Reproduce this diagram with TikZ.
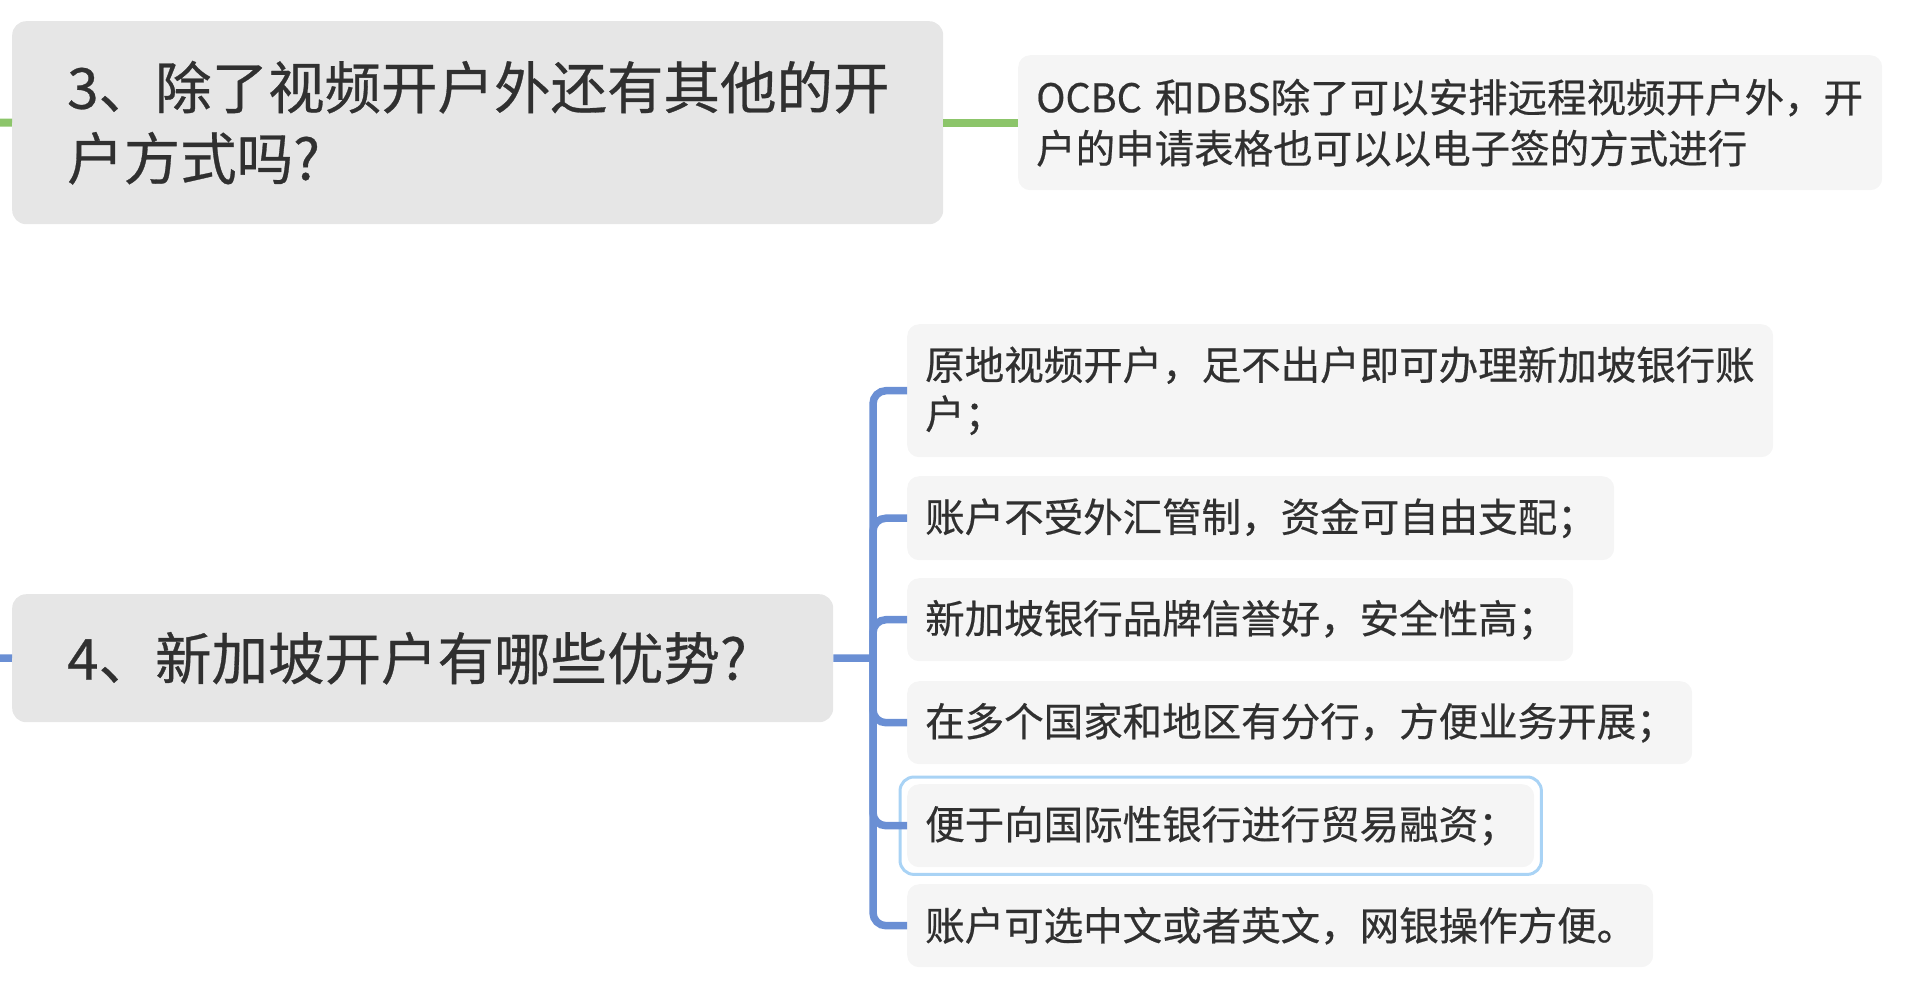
\documentclass[tikz,border=0pt]{standalone}
\usepackage{fontspec}
\setmainfont{Noto Sans CJK SC}[FakeBold=0.5]
\usetikzlibrary{fit}
\definecolor{txt}{HTML}{303030}
\definecolor{titlefill}{HTML}{E6E6E6}
\definecolor{leaffill}{HTML}{F5F5F5}
\definecolor{greenl}{HTML}{8CC56A}
\definecolor{bluel}{HTML}{6A8FD4}
\definecolor{selb}{HTML}{A9D3F5}
\begin{document}
\begin{tikzpicture}[x=1pt,y=-1pt,
  titlebox/.style={fill=titlefill, rounded corners=14pt, anchor=north west, align=left,
    inner xsep=55pt, inner ysep=0pt, font=\fontsize{56.5}{71}\selectfont, text=txt},
  leafbox/.style={fill=leaffill, rounded corners=12pt, anchor=north west, align=left,
    inner xsep=18pt, inner ysep=0pt, font=\fontsize{39.5}{49}\selectfont, text=txt},
  gline/.style={draw=greenl, line width=8pt},
  bline/.style={draw=bluel, line width=7.5pt, rounded corners=13pt},
  selbox/.style={draw=selb, line width=3pt, rounded corners=14pt, inner sep=7pt},
]
\useasboundingbox (0,0) rectangle (1920,994);

\node[titlebox, text width=821pt, minimum height=203pt] (q3) at (12,21)
  {3、除了视频开户外还有其他的开\\户方式吗?};
\node[leafbox, text width=828pt, minimum height=135pt, font=\fontsize{39.5}{51}\selectfont] (ocbc) at (1018,55)
  {OCBC 和DBS除了可以安排远程视频开户外，开\\户的申请表格也可以以电子签的方式进行};

\node[titlebox, text width=711pt, minimum height=128pt] (q4) at (12,594)
  {4、新加坡开户有哪些优势?};

\node[leafbox, text width=830pt, minimum height=133pt] (c1) at (907,324)
  {原地视频开户，足不出户即可办理新加坡银行账\\户；};
\node[leafbox, text width=671pt, minimum height=84pt] (c2) at (907,476)
  {账户不受外汇管制，资金可自由支配；};
\node[leafbox, text width=630pt, minimum height=83pt] (c3) at (907,578)
  {新加坡银行品牌信誉好，安全性高；};
\node[leafbox, text width=749pt, minimum height=83pt] (c4) at (907,681)
  {在多个国家和地区有分行，方便业务开展；};
\node[leafbox, text width=591pt, minimum height=83pt] (c5) at (907,784)
  {便于向国际性银行进行贸易融资；};
\node[leafbox, text width=710pt, minimum height=83pt] (c6) at (907,884)
  {账户可选中文或者英文，网银操作方便。};

\node[selbox, fit=(c5)] (sel) {};

\coordinate (lg) at (0,122.5);
\draw[gline] (lg) -- (q3.west);
\draw[gline] (q3.east) -- (ocbc.west);

\coordinate (lb) at (0,658);
\coordinate (trunk) at (873,658);
\draw[bline] (lb) -- (q4.west);
\draw[bline] (q4.east) -- (trunk);
\foreach \c in {c1,c2,c3,c4,c5,c6}
  \draw[bline] (trunk) |- (\c.west);
\end{tikzpicture}
\end{document}
